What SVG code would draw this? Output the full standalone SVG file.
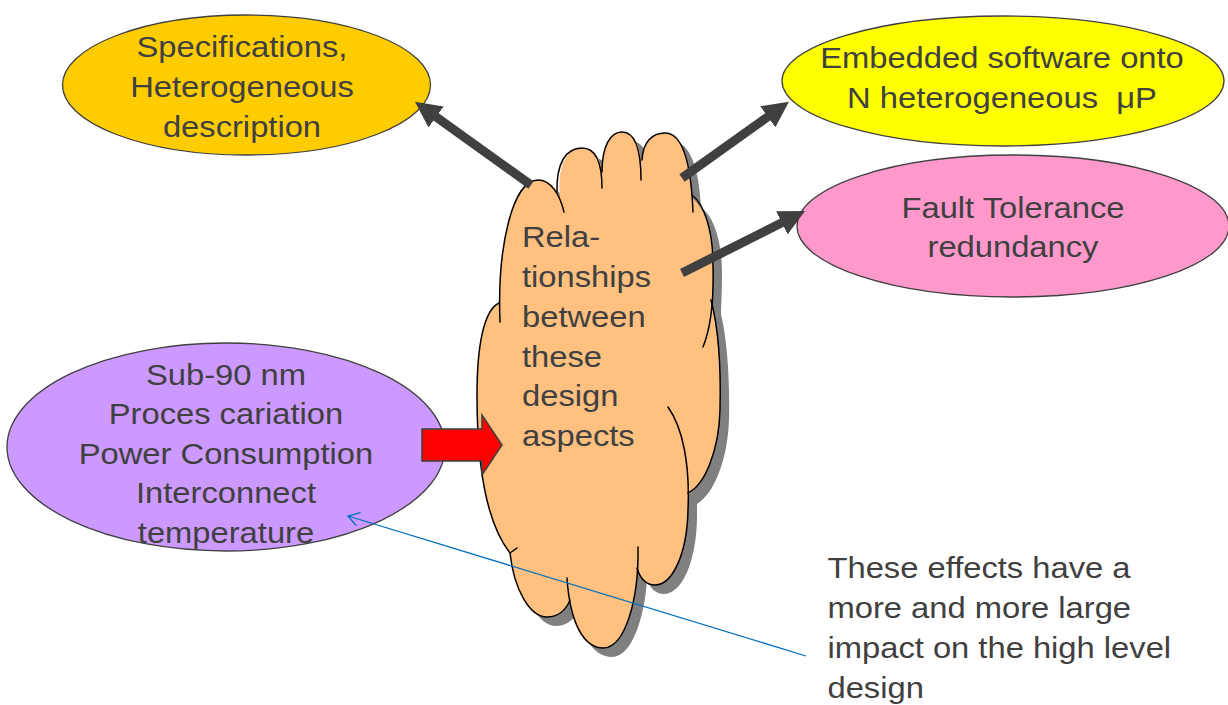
<svg xmlns="http://www.w3.org/2000/svg" width="1228" height="705" viewBox="0 0 1228 705">
  <defs>
    <style>
      .lbl { font-family: "Liberation Sans", Arial, sans-serif; font-size: 30.3px; fill: #404040; }
      .mid { text-anchor: middle; }
      .oval { stroke: #404040; stroke-width: 1.3; }
      .lobe { fill: none; stroke: #000000; stroke-width: 1.5; stroke-linecap: round; }
      .thick { stroke: #404040; stroke-width: 9; fill: none; }
      .thin { stroke: #0070C0; stroke-width: 1.3; fill: none; }
    </style>
    <marker id="headDark" markerUnits="userSpaceOnUse" viewBox="0 0 26 26" markerWidth="26" markerHeight="26" refX="1" refY="13" orient="auto">
      <path d="M0,0 L26,13 L0,26 Z" fill="#404040"/>
    </marker>
    <marker id="headOpen" markerUnits="userSpaceOnUse" viewBox="0 -8 14 16" markerWidth="14" markerHeight="16" refX="12.5" refY="0" orient="auto">
      <path d="M1.5,-7 L12.5,0 L1.5,7" fill="none" stroke="#0070C0" stroke-width="1.3"/>
    </marker>
    <!-- outer outline of the cloud, shared by fill and drop shadow -->
    <path id="cloudOutline" d="M 500,322 C 497,245 513,180 538,180 C 550,180 557,188 560,198 C 557,165 567,148 582,148 C 596,148 602,160 602,178 C 602,145 611,132 622,132 C 634,132 641,146 641,165 C 643,142 652,133 665,133 C 681,133 690,160 692,198 C 705,208 713,232 713,265 C 713,285 712,298 712,305 C 718,330 721,370 720,410 C 719,450 705,485 688,495 L 688,510 C 687,555 672,585 655,585 C 646,585 640,578 638,570 C 636,605 624,648 603,648 C 585,648 572,628 570,600 C 566,610 558,617 547,617 C 530,617 514,590 510,553 C 484,520 477,460 477,395 C 477,345 484,310 499,303 Z"/>
  </defs>

  <rect width="1228" height="705" fill="#ffffff"/>

  <!-- Specifications ellipse -->
  <g id="spec">
    <ellipse class="oval" cx="246.5" cy="85" rx="184" ry="70" fill="#FFCC00"/>
    <g transform="matrix(1.08 0 0 1 -19.36 0)">
      <text class="lbl mid" x="242" y="57">Specifications,</text>
      <text class="lbl mid" x="242" y="97.5">Heterogeneous</text>
      <text class="lbl mid" x="242" y="137.5">description</text>
    </g>
  </g>

  <!-- Embedded software ellipse -->
  <g id="embedded">
    <ellipse class="oval" cx="1003" cy="81" rx="221" ry="65" fill="#FFFF00"/>
    <g transform="matrix(1.08 0 0 1 -80.16 0)">
      <text class="lbl mid" x="1002" y="68.5">Embedded software onto</text>
      <text class="lbl mid" x="1002" y="108.5">N heterogeneous &#160;μP</text>
    </g>
  </g>

  <!-- Fault tolerance ellipse -->
  <g id="fault">
    <ellipse class="oval" cx="1013" cy="226" rx="216" ry="71" fill="#FF99CC"/>
    <g transform="matrix(1.08 0 0 1 -81.04 0)">
      <text class="lbl mid" x="1013" y="218.5">Fault Tolerance</text>
      <text class="lbl mid" x="1013" y="257.5">redundancy</text>
    </g>
  </g>

  <!-- Technology effects ellipse -->
  <g id="tech">
    <ellipse class="oval" cx="226" cy="447" rx="219" ry="104" fill="#CC99FF"/>
    <g transform="matrix(1.08 0 0 1 -18.08 0)">
      <text class="lbl mid" x="226" y="385">Sub-90 nm</text>
      <text class="lbl mid" x="226" y="424.5">Proces cariation</text>
      <text class="lbl mid" x="226" y="464">Power Consumption</text>
      <text class="lbl mid" x="226" y="503.5">Interconnect</text>
      <text class="lbl mid" x="226" y="543">temperature</text>
    </g>
  </g>

  <!-- Central cloud -->
  <g id="cloud">
    <use href="#cloudOutline" transform="translate(9,9)" fill="#808080"/>
    <use href="#cloudOutline" fill="#FFC080"/>
    <path class="lobe" d="M 500,322 C 497,245 513,180 538,180 C 551,180 560,195 564,212"/>
    <path class="lobe" d="M 557,193 C 556,163 566,148 582,148 C 596,148 602,162 602,188"/>
    <path class="lobe" d="M 602,172 C 602,145 611,132 622,132 C 635,132 641,150 641,180"/>
    <path class="lobe" d="M 642,160 C 643,142 652,133 665,133 C 682,133 691,162 693,212"/>
    <path class="lobe" d="M 692,195 C 705,205 713,232 713,265 C 714,300 710,330 703,347"/>
    <path class="lobe" d="M 711,300 C 719,330 721,370 720,410 C 719,450 705,485 688,493"/>
    <path class="lobe" d="M 668,407 C 683,428 690,465 688,510 C 687,555 672,585 655,585 C 646,585 640,578 637,568"/>
    <path class="lobe" d="M 638,547 C 639,600 625,648 603,648 C 585,648 570,625 567,578"/>
    <path class="lobe" d="M 510,553 C 514,590 530,617 547,617 C 558,617 566,610 570,600"/>
    <path class="lobe" d="M 499,303 C 484,310 477,345 477,395 C 477,460 484,520 510,553 L 517,548"/>
    <g transform="matrix(1.08 0 0 1 -41.76 0)">
      <text class="lbl" x="522" y="247.5">Rela-</text>
      <text class="lbl" x="522" y="287.2">tionships</text>
      <text class="lbl" x="522" y="326.9">between</text>
      <text class="lbl" x="522" y="366.6">these</text>
      <text class="lbl" x="522" y="406.3">design</text>
      <text class="lbl" x="522" y="446">aspects</text>
    </g>
  </g>

  <!-- Note -->
  <g id="note">
    <g transform="matrix(1.08 0 0 1 -66.2 0)">
      <text class="lbl" x="827.5" y="578">These effects have a</text>
      <text class="lbl" x="827.5" y="618">more and more large</text>
      <text class="lbl" x="827.5" y="658">impact on the high level</text>
      <text class="lbl" x="827.5" y="698">design</text>
    </g>
  </g>

  <!-- Connectors -->
  <g id="connectors">
    <line class="thick" x1="531" y1="185" x2="435.3" y2="116.4" marker-end="url(#headDark)"/>
    <line class="thick" x1="682" y1="178" x2="768.6" y2="116.2" marker-end="url(#headDark)"/>
    <line class="thick" x1="682" y1="273" x2="782.7" y2="222.3" marker-end="url(#headDark)"/>
    <polygon points="422,429 482,429 482,415 502,445 482,475 482,461 422,461" fill="#FF0000" stroke="#404040" stroke-width="1.5"/>
    <line class="thin" x1="806" y1="656" x2="348" y2="516" marker-end="url(#headOpen)"/>
  </g>
</svg>
